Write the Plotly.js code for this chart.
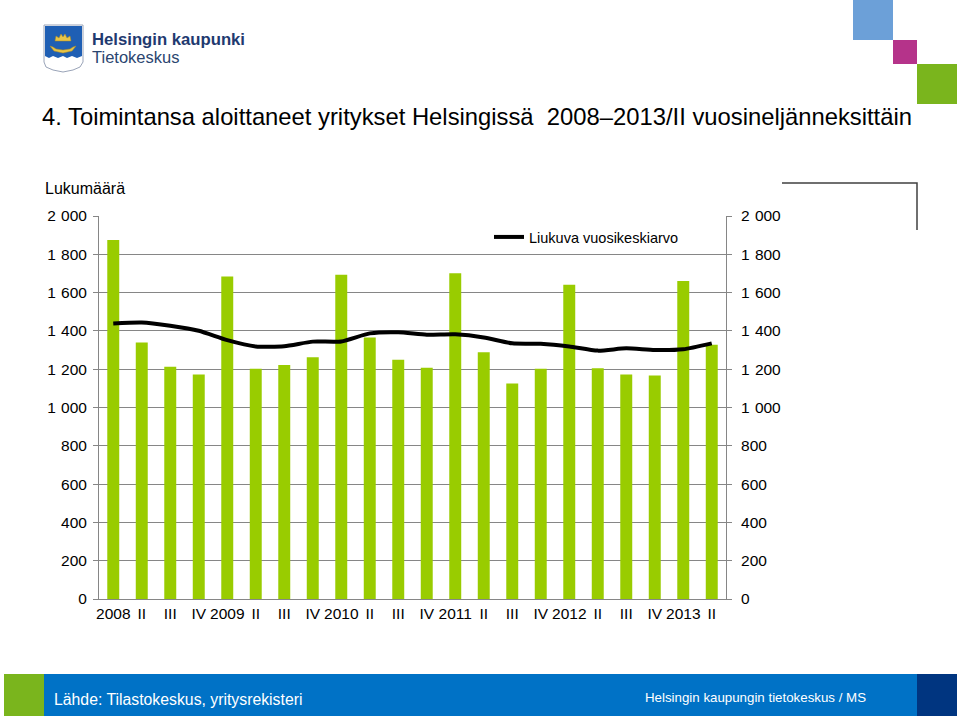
<!DOCTYPE html>
<html>
<head>
<meta charset="utf-8">
<script src="https://cdn.plot.ly/plotly-3.0.1.min.js"></script>
<style>
html,body{margin:0;padding:0;background:#fff;}
#chart{width:960px;height:716px;}
</style>
</head>
<body>
<div id="chart"></div>
<script>
// ---- Data ----
var quarterLabels = ["2008","II","III","IV","2009","II","III","IV","2010","II","III","IV","2011","II","III","IV","2012","II","III","IV","2013","II"];
var startedCompanies = [1875,1340,1213,1172,1684,1203,1222,1262,1693,1366,1250,1208,1701,1288,1125,1203,1641,1205,1172,1167,1660,1328];
var movingAverage = [1439,1444,1427,1401,1352,1319,1320,1344,1345,1387,1393,1380,1382,1366,1335,1333,1319,1297,1309,1300,1304,1335];
var yTicks = [0,200,400,600,800,1000,1200,1400,1600,1800,2000];

var xIdx = quarterLabels.map(function(_, i){ return i; });
// thousands separated with a space, as in the original
var yTickText = yTicks.map(function(v){
  var s = String(v);
  return s.length > 3 ? s.slice(0, s.length - 3) + "\u2004" + s.slice(-3) : s;
});

// plot area in pixels
var L = 99, R = 726, T = 216, B = 599;
function px(x){ return (x - L) / (R - L); }
function py(y){ return (B - y) / (B - T); }

var FONT = "Liberation Sans, Arial, sans-serif";

var traces = [
  {
    type: "bar", x: xIdx, y: startedCompanies, width: 0.42,
    marker: {color: "#99CC00"}, showlegend: false, hoverinfo: "y"
  },
  {
    type: "scatter", mode: "lines", x: xIdx, y: movingAverage,
    name: "Liukuva vuosikeskiarvo",
    line: {color: "#000000", width: 4, shape: "spline", smoothing: 0.6}
  },
  {
    type: "scatter", mode: "lines", x: xIdx, y: startedCompanies, yaxis: "y2",
    line: {width: 0}, opacity: 0, showlegend: false, hoverinfo: "skip"
  }
];

function rect(x0, y0, x1, y1, color){
  return {type: "rect", xref: "paper", yref: "paper", x0: px(x0), x1: px(x1), y0: py(y1), y1: py(y0),
          fillcolor: color, line: {width: 0}, layer: "above"};
}

// shield path (logo)
function pathFrom(points){
  return points.map(function(p, i){ return (i ? "L" : "M") + px(p[0]) + "," + py(p[1]); }).join(" ") + " Z";
}
var shieldOuter = pathFrom([[44,25],[83,25],[83,62],[80,67],[73,70],[63,72],[53,70],[46,67],[44,62]]);
var shieldBlue = pathFrom([[45,26],[82,26],[82,56],[77,58],[72,56],[67,58],[63,56],[58,58],[53,56],[49,58],[45,56]]);
var boat = pathFrom([[50,46],[54,51],[63,53],[72,51],[76,46],[73,47],[70,49],[63,50],[56,49],[53,47]]);
var crown = pathFrom([[55,41],[56,36],[59,38],[61,34],[63,37],[65,34],[67,38],[70,36],[71,41]]);

var shapes = [
  // footer
  rect(4, 674, 44, 716, "#7AB51D"),
  rect(44, 674, 917, 716, "#0072C6"),
  rect(917, 674, 957, 716, "#003580"),
  // top right squares
  rect(853, 0, 893, 40, "#6CA0D8"),
  rect(893, 40, 917, 64, "#B5338A"),
  rect(917, 64, 957, 104, "#7AB51D"),
  // corner line
  {type: "path", xref: "paper", yref: "paper",
   path: "M" + px(782) + "," + py(183) + " L" + px(917) + "," + py(183) + " L" + px(917) + "," + py(230),
   line: {color: "#404040", width: 1.5}},
  // logo shield
  {type: "path", xref: "paper", yref: "paper", path: shieldOuter, fillcolor: "#ffffff", line: {color: "#9aa4b8", width: 1}},
  {type: "path", xref: "paper", yref: "paper", path: shieldBlue, fillcolor: "#1F5FB4", line: {width: 0}},
  {type: "path", xref: "paper", yref: "paper", path: boat, fillcolor: "#E8C547", line: {color: "#B08A20", width: 0.5}},
  {type: "path", xref: "paper", yref: "paper", path: crown, fillcolor: "#E8C547", line: {color: "#B08A20", width: 0.5}}
];

function ann(text, x, y, opts){
  var a = {text: text, xref: "paper", yref: "paper", x: px(x), y: py(y), showarrow: false,
           xanchor: "left", yanchor: "middle", font: {family: FONT, size: 15, color: "#000"}};
  for (var k in opts) a[k] = opts[k];
  return a;
}

var annotations = [
  ann("4. Toimintansa aloittaneet yritykset Helsingissä  2008\u20132013/II vuosineljänneksittäin", 40, 117,
      {font: {family: FONT, size: 23.8, color: "#000"}}),
  ann("Lukumäärä", 43, 188, {font: {family: FONT, size: 16, color: "#000"}}),
  ann("<b>Helsingin kaupunki</b>", 90, 40, {font: {family: FONT, size: 16.7, color: "#1F3A70"}}),
  ann("Tietokeskus", 90, 57, {font: {family: FONT, size: 16.5, color: "#2B4570"}}),
  ann("Lähde: Tilastokeskus, yritysrekisteri", 52, 699, {font: {family: FONT, size: 15.8, color: "#ffffff"}}),
  ann("Helsingin kaupungin tietokeskus / MS", 643, 697, {font: {family: FONT, size: 13.3, color: "#ffffff"}})
];

var axisY = {
  range: [0, 2000], tickvals: yTicks, ticktext: yTickText,
  showgrid: true, gridcolor: "#868686", gridwidth: 1,
  showline: true, linecolor: "#868686", linewidth: 1,
  ticks: "outside", ticklen: 5, tickcolor: "#868686",
  zeroline: false, fixedrange: true, ticklabelstandoff: 3,
  tickfont: {family: FONT, size: 15.5, color: "#000"}
};
var axisY2 = JSON.parse(JSON.stringify(axisY));
axisY2.overlaying = "y"; axisY2.side = "right"; axisY2.showgrid = false; axisY2.ticklabelstandoff = 6;

var layout = {
  width: 960, height: 716,
  margin: {l: L, r: 960 - R, t: T, b: 716 - B, pad: 0},
  paper_bgcolor: "#ffffff", plot_bgcolor: "#ffffff",
  font: {family: FONT, size: 15.5, color: "#000"},
  xaxis: {
    range: [-0.5, 21.5], tickvals: xIdx, ticktext: quarterLabels,
    showline: true, linecolor: "#868686", linewidth: 1, ticks: "", showgrid: false,
    zeroline: false, fixedrange: true, tickangle: 0,
    tickfont: {family: FONT, size: 15.5, color: "#000"}
  },
  yaxis: axisY,
  yaxis2: axisY2,
  showlegend: true,
  legend: {x: px(489), y: py(221), xanchor: "left", yanchor: "top", bgcolor: "rgba(0,0,0,0)",
           font: {family: FONT, size: 14.5, color: "#000"}, itemwidth: 30},
  shapes: shapes,
  annotations: annotations,
  bargap: 0.58
};

Plotly.newPlot("chart", traces, layout, {displayModeBar: false, staticPlot: true});
</script>
</body>
</html>
